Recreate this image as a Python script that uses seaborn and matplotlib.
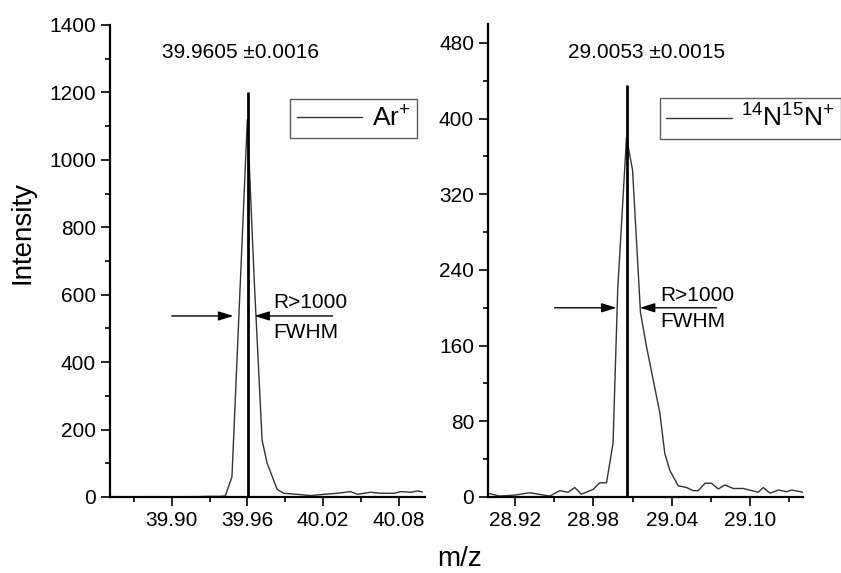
import numpy as np
import pandas as pd
import matplotlib
matplotlib.use("Agg")
import matplotlib.pyplot as plt
from matplotlib.ticker import MultipleLocator, FormatStrFormatter
import seaborn as sns

# ---------------- data ----------------
ar_mz = [39.852, 39.860, 39.870, 39.880, 39.890, 39.900, 39.910, 39.920, 39.930,
         39.9380, 39.9425, 39.9478, 39.9600, 39.9655, 39.9717, 39.9757, 39.9783,
         39.9836, 39.9889, 39.9996, 40.0102, 40.0207, 40.0314, 40.0420, 40.0473,
         40.0579, 40.0659, 40.0765, 40.0818, 40.0898, 40.0951, 40.0990]
ar_int = [1, 1, 0, 1, 1, 0, 1, 1, 2,
          2, 3, 60, 1120, 640, 169, 100, 75,
          23, 11, 8, 4, 8, 11, 16, 8,
          14, 11, 11, 16, 14, 18, 15]

n2_mz = [28.8992, 28.9082, 28.9197, 28.9312, 28.9465, 28.9542, 28.9605, 28.9657,
         28.9708, 28.9797, 28.9848, 28.9900, 28.9950, 28.9986, 29.0053, 29.0099,
         29.0160, 29.0206, 29.0257, 29.0308, 29.0346, 29.0385, 29.0448, 29.0512,
         29.0563, 29.0601, 29.0653, 29.0704, 29.0755, 29.0806, 29.0870, 29.0946,
         29.1061, 29.1100, 29.1151, 29.1215, 29.1279, 29.1318, 29.1406]
n2_int = [4, 1, 2, 4.5, 1, 6.7, 5, 10,
          3, 8, 15, 15, 57, 220, 380, 346,
          195, 159, 124, 89, 46, 28, 12, 10,
          6.7, 6.7, 14.5, 14.5, 8.5, 12.7, 9, 9,
          5, 10, 4, 7.4, 5.6, 7.4, 5]

peak_pos = [39.9605, 29.0053]
peak_height = [1200, 435]
peak_labels = ["39.9605 \u00b10.0016", "29.0053 \u00b10.0015"]
series_names = ["Ar$^{+}$", "$^{14}$N$^{15}$N$^{+}$"]

# ---------------- style ----------------
sns.set_style("ticks")
plt.rcParams["font.family"] = ["Liberation Sans", "DejaVu Sans"]
plt.rcParams["mathtext.fontset"] = "custom"
plt.rcParams["mathtext.rm"] = "Liberation Sans"
plt.rcParams["mathtext.default"] = "regular"
plt.rcParams["text.color"] = "black"
plt.rcParams["axes.edgecolor"] = "black"
plt.rcParams["xtick.color"] = "black"
plt.rcParams["ytick.color"] = "black"
plt.rcParams["xtick.labelcolor"] = "black"
plt.rcParams["ytick.labelcolor"] = "black"

W, H = 841, 573
fig = plt.figure(figsize=(W / 100, H / 100), dpi=100)

def px_rect(x0, y0, x1, y1):
    return [x0 / W, 1 - y1 / H, (x1 - x0) / W, (y1 - y0) / H]

ax1 = fig.add_axes(px_rect(110, 25, 425, 497))
ax2 = fig.add_axes(px_rect(488, 24, 803.3, 497))

df1 = pd.DataFrame({"mz": ar_mz, "I": ar_int, "s": series_names[0]})
df2 = pd.DataFrame({"mz": n2_mz, "I": n2_int, "s": series_names[1]})

line_col = "#333333"
for ax, df in [(ax1, df1), (ax2, df2)]:
    sns.lineplot(data=df, x="mz", y="I", hue="s", palette=[line_col], ax=ax,
                 linewidth=1.0, estimator=None, sort=False)

# vertical peak lines
ax1.vlines(peak_pos[0], 0, peak_height[0], color="black", linewidth=2.0)
ax2.vlines(peak_pos[1], 0, peak_height[1], color="black", linewidth=2.0)

# limits
ax1.set_xlim(39.851, 40.101)
ax1.set_ylim(0, 1400)
ax2.set_xlim(28.8993, 29.1406)
ax2.set_ylim(0, 500)

ax1.set_xticks([39.90, 39.96, 40.02, 40.08])
ax1.set_xticks([39.87, 39.93, 39.99, 40.05], minor=True)
ax1.yaxis.set_major_locator(MultipleLocator(200))
ax1.yaxis.set_minor_locator(MultipleLocator(100))
ax2.set_xticks([28.92, 28.98, 29.04, 29.10])
ax2.set_xticks([28.95, 29.01, 29.07, 29.13], minor=True)
ax2.yaxis.set_major_locator(MultipleLocator(80))
ax2.yaxis.set_minor_locator(MultipleLocator(40))

for ax in (ax1, ax2):
    ax.xaxis.set_major_formatter(FormatStrFormatter("%.2f"))
    sns.despine(ax=ax)
    for sp in ("left", "bottom"):
        ax.spines[sp].set_linewidth(1.6)
        ax.spines[sp].set_color("black")
    ax.tick_params(which="major", length=6.5, width=1.2, labelsize=15,
                   direction="out", color="black", labelcolor="black")
    ax.tick_params(which="minor", length=3.6, width=1.2, direction="out",
                   color="black")
    ax.set_xlabel("")
    ax.set_ylabel("")
    ax.patch.set_alpha(0)

# legends
for ax, bbox in [(ax1, (0.974, 0.843)), (ax2, (1.12, 0.843))]:
    h, l = ax.get_legend_handles_labels()
    leg = ax.legend(h, l, loc="upper right", bbox_to_anchor=bbox, fontsize=19,
                    frameon=True, fancybox=False, edgecolor="#333333",
                    handlelength=2.5, handletextpad=0.35, borderpad=0.25,
                    borderaxespad=0)
    leg.get_frame().set_linewidth(1.0)
    for ln in leg.get_lines():
        ln.set_linewidth(1.0)

# peak position text
fig.text(240 / W, 1 - 52 / H, peak_labels[0], fontsize=15, ha="center", va="center")
fig.text(647 / W, 1 - 52 / H, peak_labels[1], fontsize=15, ha="center", va="center")

# FWHM arrows
arrow_kw = dict(arrowstyle="-|>,head_length=0.9,head_width=0.28", color="black",
                linewidth=1.0, shrinkA=0, shrinkB=0)
ax1.annotate("", xy=(39.9489, 537), xytext=(39.900, 537), arrowprops=arrow_kw)
ax1.annotate("", xy=(39.9656, 537), xytext=(40.0277, 537), arrowprops=arrow_kw)
ax1.text(39.9807, 576, "R>1000", fontsize=15, ha="left", va="center")
ax1.text(39.9807, 487, "FWHM", fontsize=15, ha="left", va="center")

ax2.annotate("", xy=(28.9976, 200), xytext=(28.9503, 200), arrowprops=arrow_kw)
ax2.annotate("", xy=(29.0155, 200), xytext=(29.0742, 200), arrowprops=arrow_kw)
ax2.text(29.031, 213.5, "R>1000", fontsize=15, ha="left", va="center")
ax2.text(29.031, 185, "FWHM", fontsize=15, ha="left", va="center")

# axis labels
fig.text(22 / W, 1 - 232 / H, "Intensity", fontsize=20, rotation=90,
         ha="center", va="center")
fig.text(460 / W, 0.012, "m/z", fontsize=20, ha="center", va="baseline")

fig.savefig("out.png", dpi=100)
